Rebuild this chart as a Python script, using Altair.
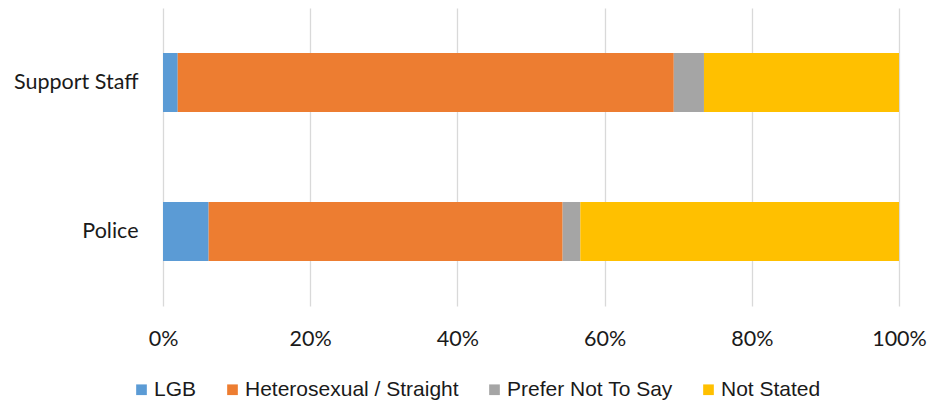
import altair as alt
import pandas as pd

categories = ["Support Staff", "Police"]
groups = ["LGB", "Heterosexual / Straight", "Prefer Not To Say", "Not Stated"]
colors = ["#5B9BD5", "#ED7D31", "#A5A5A5", "#FFC000"]
support_vals = [2.0, 67.4, 4.1, 26.5]
police_vals = [6.2, 48.1, 2.4, 43.3]

rows = []
for cat, vals in zip(categories, [support_vals, police_vals]):
    for i, (g, v) in enumerate(zip(groups, vals)):
        rows.append({"category": cat, "group": g, "value": v, "order": i})
df = pd.DataFrame(rows)

AXFONT = "Lato"
LGFONT = "Liberation Sans"

chart = alt.Chart(df).mark_bar(size=59).encode(
    x=alt.X("value:Q", stack="normalize",
            scale=alt.Scale(domain=[0, 1]),
            axis=alt.Axis(format="%", values=[0, 0.2, 0.4, 0.6, 0.8, 1.0],
                          title=None, grid=True, gridColor="#D9D9D9", gridWidth=1.3,
                          domain=False, ticks=False, labelPadding=22, labelFlush=False,
                          labelFontSize=21.5, labelFont=AXFONT, labelColor="#1a1a1a")),
    y=alt.Y("category:N", sort=categories,
            scale=alt.Scale(paddingInner=0.6, paddingOuter=0.3),
            axis=alt.Axis(title=None, domain=False, ticks=False, labelPadding=25,
                          labelLimit=0,
                          labelFontSize=21.5, labelFont=AXFONT, labelColor="#1a1a1a")),
    color=alt.Color("group:N", scale=alt.Scale(domain=groups, range=colors),
                    legend=alt.Legend(title=None, orient="none", direction="horizontal",
                                      legendX=-32, legendY=371,
                                      symbolType="square", symbolSize=114,
                                      symbolStrokeWidth=0, labelOffset=2,
                                      columnPadding=25, labelLimit=0,
                                      labelFontSize=21, labelFont=LGFONT,
                                      labelColor="#1a1a1a")),
    order=alt.Order("order:Q", sort="ascending"),
).properties(
    width=736, height=298,
    autosize=alt.AutoSizeParams(type="none"),
    padding={"left": 163, "top": 8, "right": 30, "bottom": 97},
).configure_view(stroke=None)

chart.save("out.html", embed_options={"renderer": "svg", "actions": False})
